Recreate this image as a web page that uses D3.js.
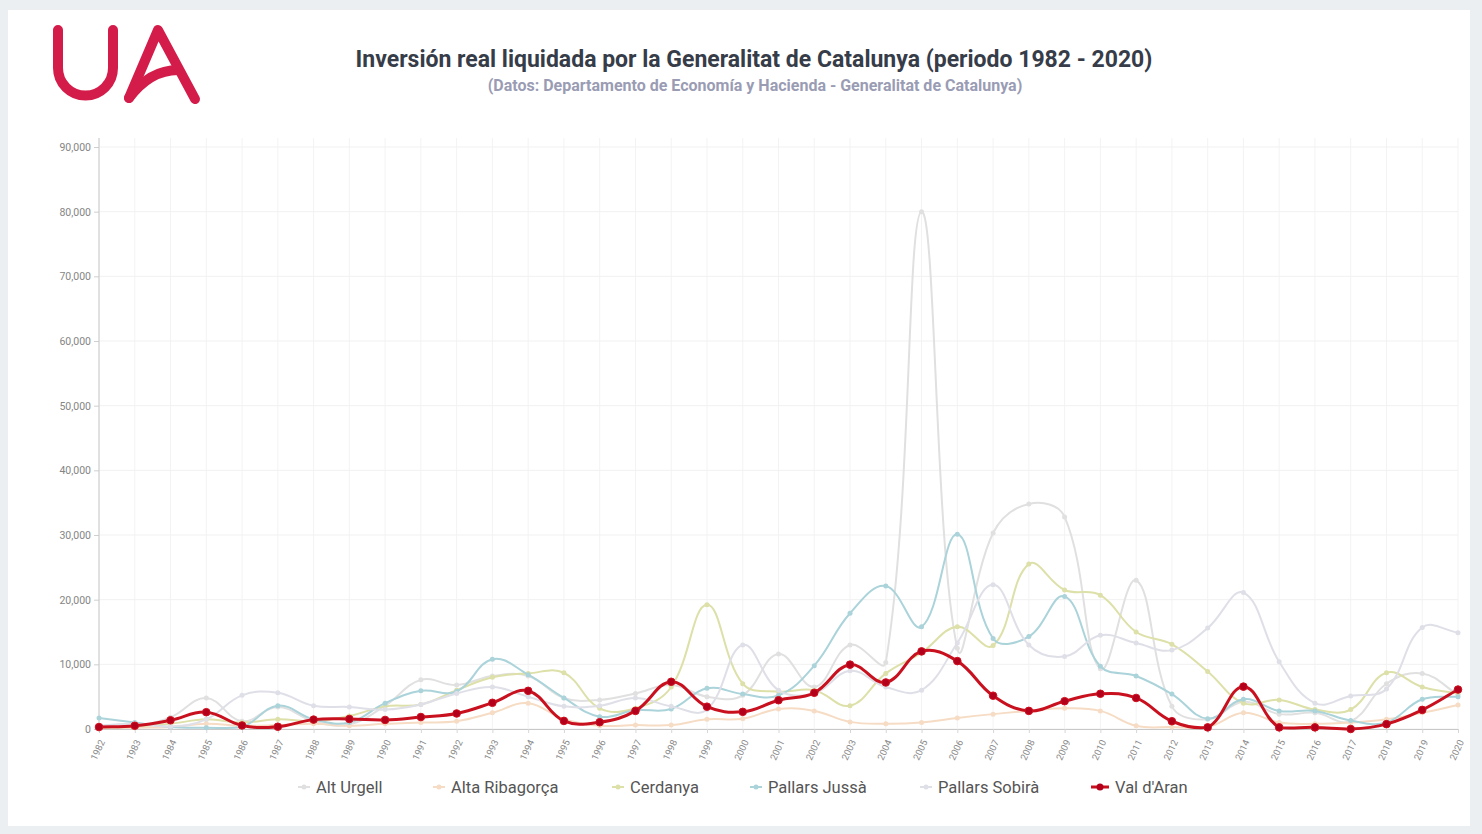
<!DOCTYPE html>
<html>
<head>
<meta charset="utf-8">
<script src="https://cdn.jsdelivr.net/npm/d3@7"></script>
<style>
  html, body { margin: 0; padding: 0; background: #eceff1; }
  svg { display: block; }
</style>
</head>
<body>
<svg id="chart" width="1482" height="834"></svg>
<script>
// ---------------- DATA ----------------
const years = [1982,1983,1984,1985,1986,1987,1988,1989,1990,1991,1992,1993,1994,1995,1996,1997,1998,1999,2000,2001,2002,2003,2004,2005,2006,2007,2008,2009,2010,2011,2012,2013,2014,2015,2016,2017,2018,2019,2020];
const seriesNames = ["Alt Urgell", "Alta Ribagorça", "Cerdanya", "Pallars Jussà", "Pallars Sobirà", "Val d'Aran"];
const altUrgell     = [200,400,1800,4800,1200,3400,1200,700,3600,7600,6800,8200,8200,4800,4500,5500,6800,5000,5200,11600,6500,13000,10300,80000,12500,30300,34800,32800,9300,23000,3500,1500,4200,2300,2500,1200,7000,8600,5300];
const altaRibagorca = [100,200,300,800,500,600,800,500,800,1000,1200,2500,4000,1500,500,600,600,1500,1600,3100,2800,1100,800,1000,1700,2300,2800,3200,2800,500,300,300,2500,1000,800,1000,1500,2500,3700];
const cerdanya      = [200,400,800,1500,1000,1500,1200,2000,3500,3800,6000,8000,8600,8700,3200,3200,6500,19200,7000,5800,6000,3600,8600,11800,15800,12900,25500,21500,20700,15000,13100,8900,4000,4500,3000,3000,8700,6500,5500];
const pallarsJussa  = [1700,1000,300,200,300,3600,1500,1000,4000,5900,5800,10800,8400,4800,1900,2900,3100,6300,5400,5200,9800,17900,22100,15800,30100,14000,14300,20500,9700,8200,5400,1600,4600,2800,2800,1300,1000,4600,5000];
const pallarsSobira = [500,800,400,1500,5200,5600,3600,3400,3000,3800,5500,6500,5000,3500,3600,4800,3500,3000,13000,6000,5500,9000,6500,6000,13300,22300,13000,11200,14500,13300,12200,15600,21100,10400,4000,5100,6200,15700,14900];
const valDAran      = [300,500,1350,2600,550,350,1450,1550,1400,1850,2400,4050,5900,1250,1050,2800,7300,3450,2650,4450,5600,9950,7200,12000,10500,5150,2800,4300,5450,4800,1200,250,6550,250,250,0,750,2950,6100];
const yTicks = [0,10000,20000,30000,40000,50000,60000,70000,80000,90000];
const titleText = "Inversión real liquidada por la Generalitat de Catalunya (periodo 1982 - 2020)";
const subtitleText = "(Datos: Departamento de Economía y Hacienda - Generalitat de Catalunya)";

// ---------------- STYLE ----------------
const seriesValues = [altUrgell, altaRibagorca, cerdanya, pallarsJussa, pallarsSobira, valDAran];
const colors = ["#e0e0e0", "#f6dcc4", "#dde0a8", "#abd3da", "#dfdfe8", "#c8101f"];
const legendX = [316, 451, 630, 768, 938, 1115];

const svg = d3.select("#chart");
svg.append("rect").attr("x", 8).attr("y", 10).attr("width", 1462).attr("height", 816).attr("fill", "#ffffff");

const pL = 99, pR = 1458, pT = 147, pB = 729;
const x = d3.scalePoint().domain(years).range([pL, pR]);
const y = d3.scaleLinear().domain([0, 90000]).range([pB, pT]);

// Chart.js-like spline curve (tension 0.4, capped to chart area)
function chartJsCurve(context) {
  return {
    _pts: [],
    areaStart() {}, areaEnd() {},
    lineStart() { this._pts = []; },
    point(px, py) { this._pts.push([+px, +py]); },
    lineEnd() {
      const p = this._pts, n = p.length, t = 0.4;
      if (!n) return;
      const cap = v => Math.max(pT - 9, Math.min(pB, v));
      const cps = p.map((c, i) => {
        const prev = p[Math.max(0, i - 1)], next = p[Math.min(n - 1, i + 1)];
        const d01 = Math.hypot(c[0] - prev[0], c[1] - prev[1]);
        const d12 = Math.hypot(next[0] - c[0], next[1] - c[1]);
        const s01 = d01 / (d01 + d12 || 1), s12 = d12 / (d01 + d12 || 1);
        const fa = t * s01, fb = t * s12;
        return {
          px: c[0] - fa * (next[0] - prev[0]), py: cap(c[1] - fa * (next[1] - prev[1])),
          nx: c[0] + fb * (next[0] - prev[0]), ny: cap(c[1] + fb * (next[1] - prev[1]))
        };
      });
      context.moveTo(p[0][0], p[0][1]);
      for (let i = 1; i < n; i++) {
        context.bezierCurveTo(cps[i - 1].nx, cps[i - 1].ny, cps[i].px, cps[i].py, p[i][0], p[i][1]);
      }
    }
  };
}

// grid
const grid = svg.append("g");
grid.selectAll("line.v").data(years).join("line")
  .attr("x1", d => x(d)).attr("x2", d => x(d)).attr("y1", 138).attr("y2", pB)
  .attr("stroke", "#f3f3f3").attr("stroke-width", 1);
grid.selectAll("line.h").data(yTicks).join("line")
  .attr("x1", pL).attr("x2", pR).attr("y1", d => y(d)).attr("y2", d => y(d))
  .attr("stroke", "#f1f1f1").attr("stroke-width", 1);

// y axis
const yAxis = svg.append("g").attr("transform", `translate(${pL},0)`)
  .call(d3.axisLeft(y).tickValues(yTicks).tickFormat(d3.format(",")).tickSize(5).tickPadding(3));
yAxis.select(".domain").remove();
yAxis.selectAll(".tick line").attr("stroke", "#cfcfcf");
yAxis.selectAll("text").attr("fill", "#858585").style("font-family", "Roboto, sans-serif").style("font-size", "10.5px");
svg.append("line").attr("x1", pL).attr("x2", pL).attr("y1", 138).attr("y2", pB + 1).attr("stroke", "#c8c8c8");

// x axis
const xAxis = svg.append("g").attr("transform", `translate(0,${pB})`)
  .call(d3.axisBottom(x).tickSize(4).tickPadding(4));
xAxis.select(".domain").attr("stroke", "#c8c8c8");
xAxis.selectAll(".tick line").attr("stroke", "#d6d6d6");
xAxis.selectAll("text")
  .attr("fill", "#8a8a8a").style("font-family", "Roboto, sans-serif").style("font-size", "9.5px")
  .attr("text-anchor", "end").attr("dy", "0.2em").attr("dx", "-0.3em")
  .attr("transform", "translate(-2,6) rotate(-65)");

// lines
const line = d3.line().x((d, i) => x(years[i])).y(d => y(d)).curve(chartJsCurve);
const plot = svg.append("g");
seriesValues.forEach((vals, si) => {
  const isRed = si === 5;
  const g = plot.append("g");
  g.append("path").datum(vals).attr("d", line)
    .attr("fill", "none").attr("stroke", colors[si])
    .attr("stroke-width", isRed ? 3 : 2).attr("stroke-linejoin", "round");
  g.selectAll("circle").data(vals).join("circle")
    .attr("cx", (d, i) => x(years[i])).attr("cy", d => y(d))
    .attr("r", isRed ? 3.8 : 2.5)
    .attr("fill", isRed ? "#b3001b" : colors[si])
    .attr("stroke", isRed ? "#d0101f" : "none").attr("stroke-width", 1);
});

// title
svg.append("text").attr("x", 754).attr("y", 67).attr("text-anchor", "middle")
  .style("font-family", "Roboto, sans-serif").style("font-weight", "700").style("font-size", "23px")
  .attr("fill", "#363c48").text(titleText);
svg.append("text").attr("x", 755).attr("y", 91).attr("text-anchor", "middle")
  .style("font-family", "Roboto, sans-serif").style("font-weight", "700").style("font-size", "16px")
  .attr("fill", "#9a9cb4").text(subtitleText);

// logo
const logo = svg.append("g").attr("fill", "none").attr("stroke", "#d41c4b")
  .attr("stroke-width", 10).attr("stroke-linecap", "round").attr("stroke-linejoin", "round");
logo.append("path").attr("d", "M58 30 V68 A27.5 27.5 0 0 0 113 68 V30");
logo.append("path").attr("d", "M129 98 L158 30 L195 99");
logo.append("path").attr("d", "M129 98 Q150 70 178 70");

// legend
const legend = svg.append("g");
seriesNames.forEach((name, si) => {
  const isRed = si === 5;
  const lx = legendX[si];
  const g = legend.append("g");
  g.append("line").attr("x1", lx - (isRed ? 24 : 18)).attr("x2", lx - 6).attr("y1", 787).attr("y2", 787)
    .attr("stroke", colors[si]).attr("stroke-width", isRed ? 3 : 2);
  g.append("circle").attr("cx", lx - (isRed ? 15 : 12)).attr("cy", 787).attr("r", isRed ? 3.5 : 2.5)
    .attr("fill", isRed ? "#b3001b" : colors[si]);
  g.append("text").attr("x", lx).attr("y", 793)
    .style("font-family", "Roboto, sans-serif").style("font-size", "16.5px")
    .attr("fill", "#555").text(name);
});
</script>
</body>
</html>
